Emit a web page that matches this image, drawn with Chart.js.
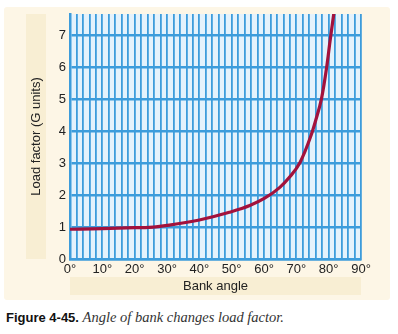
<!DOCTYPE html>
<html>
<head>
<meta charset="utf-8">
<script src="https://cdn.jsdelivr.net/npm/chart.js@4.4.1/dist/chart.umd.min.js"></script>
<style>
  body { margin: 0; background: #fff; font-family: "Liberation Sans", Arial, sans-serif; }
  #panel { position: absolute; left: 4px; top: 7px; width: 386px; height: 293px; background: #fdf6e6; border-radius: 3px; }
  #wrap { position: absolute; left: 0; top: 0; width: 398px; height: 300px; }
  #caption { position: absolute; left: 6px; top: 309px; font-size: 13px; color: #111; white-space: nowrap; }
  #caption b { font-family: "Liberation Sans", Arial, sans-serif; }
  #caption i { font-family: "Liberation Serif", "Times New Roman", serif; font-size: 14.5px; color: #333; }
</style>
</head>
<body>
<div id="panel"></div>
<div id="wrap"><canvas id="myChart" width="398" height="300"></canvas></div>
<div id="caption"><b>Figure 4-45.</b> <i>Angle of bank changes load factor.</i></div>
<script>
document.addEventListener('DOMContentLoaded', () => {
  // bank angle (degrees) and load factor
  const bankAngles = [0, 10, 20, 24.5, 30.7, 40, 49.3, 55.6, 60.2, 64.9, 68, 71.1, 74.4, 76, 77.8, 79.4, 80.4, 81.6];
  const loadFactors = [0.93, 0.95, 0.98, 0.99, 1.06, 1.22, 1.46, 1.67, 1.9, 2.24, 2.57, 3.01, 3.82, 4.34, 5.02, 6.01, 6.79, 7.68];
  const angleLabels = [0, 10, 20, 30, 40, 50, 60, 70, 80, 90];
  const gTicks = [0, 1, 2, 3, 4, 5, 6, 7];

  const gridBlue = '#3d9cdb';
  const textColor = '#222';

  // background bands behind the axis titles, and the titles themselves
  const titleBands = {
    id: 'titleBands',
    beforeDraw(chart) {
      const { ctx, chartArea } = chart;
      ctx.save();
      ctx.fillStyle = '#f8eed3';
      ctx.fillRect(26, chartArea.top, 20, chartArea.bottom - chartArea.top);
      ctx.fillRect(chartArea.left, 277, chartArea.right - chartArea.left, 18);
      ctx.fillStyle = '#e4f2fc';
      ctx.fillRect(chartArea.left, chartArea.top, chartArea.right - chartArea.left, chartArea.bottom - chartArea.top);

      ctx.fillStyle = textColor;
      ctx.font = '13px "Liberation Sans", Arial, sans-serif';
      ctx.textAlign = 'center';
      ctx.textBaseline = 'middle';
      ctx.fillText('Bank angle', (chartArea.left + chartArea.right) / 2, 286);
      ctx.translate(36, (chartArea.top + chartArea.bottom) / 2);
      ctx.rotate(-Math.PI / 2);
      ctx.fillText('Load factor (G units)', 0, 0);
      ctx.restore();
    },
  };

  const ctx = document.getElementById('myChart');

  new Chart(ctx, {
    type: 'line',
    data: {
      datasets: [
        {
          label: 'Load factor',
          data: bankAngles.map((a, i) => ({ x: a, y: loadFactors[i] })),
          borderColor: '#a3123c',
          borderWidth: 3.2,
          pointRadius: 0,
          cubicInterpolationMode: 'monotone',
          fill: false,
        },
      ],
    },
    options: {
      responsive: false,
      animation: false,
      layout: { padding: { left: 0, top: 14, right: 37, bottom: 0 } },
      plugins: { legend: { display: false }, tooltip: { enabled: false } },
      scales: {
        x: {
          type: 'linear',
          min: 0,
          max: 90,
          afterFit: (s) => { s.height = 41; },
          grid: { color: gridBlue, lineWidth: 1.8, drawTicks: false },
          border: { color: gridBlue, width: 2.5 },
          ticks: {
            stepSize: 2,
            autoSkip: false,
            maxRotation: 0,
            padding: 3,
            color: textColor,
            font: { size: 13, family: '"Liberation Sans", Arial, sans-serif' },
            callback: (v) => (angleLabels.includes(v) ? v + '°' : ''),
          },
        },
        y: {
          type: 'linear',
          min: 0,
          max: 7.66,
          afterFit: (s) => { s.width = 70; },
          afterBuildTicks: (s) => { s.ticks = gTicks.map((v) => ({ value: v })); },
          grid: { color: gridBlue, lineWidth: 2.5, drawTicks: false },
          border: { color: gridBlue, width: 2.5 },
          ticks: {
            padding: 4,
            color: textColor,
            font: { size: 13, family: '"Liberation Sans", Arial, sans-serif' },
          },
        },
      },
    },
    plugins: [titleBands],
  });
});
</script>
</body>
</html>
